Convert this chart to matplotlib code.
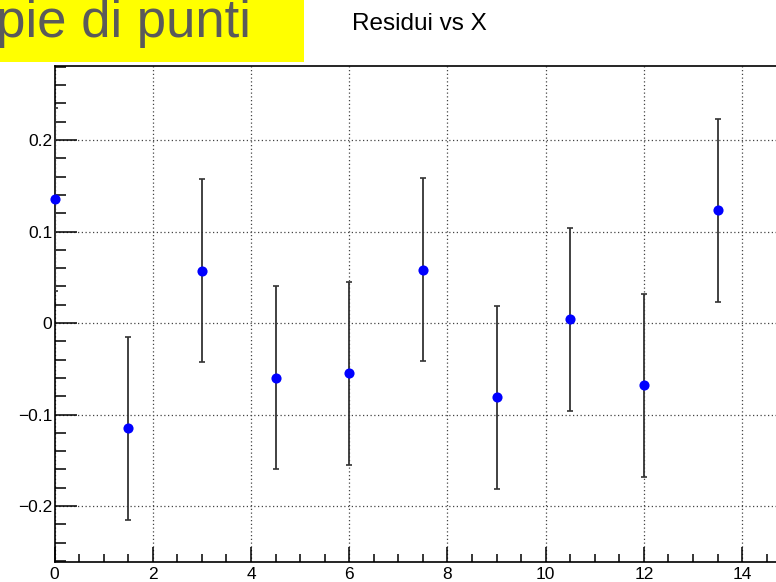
#!/usr/bin/env python3
"""
Residui vs X — ROOT-style residual plot (cropped slide screenshot).
"""

import matplotlib
matplotlib.use('Agg')
import matplotlib.pyplot as plt
import matplotlib.patches as mpatches
from matplotlib.ticker import MultipleLocator

# ============================================================
# DATA
# ============================================================

x_vals   = [0.0, 1.5, 3.0, 4.5, 6.0, 7.5, 9.0, 10.5, 12.0, 13.5]
residui  = [0.135, -0.115, 0.057, -0.060, -0.055, 0.058, -0.081, 0.004, -0.068, 0.123]
err_y    = [0.10] * len(x_vals)

TITLE       = 'Residui vs X'
SLIDE_LABEL = 'coppie di punti'

# ============================================================
# FIGURE
# ============================================================

plt.rcParams['font.family'] = ['Liberation Sans', 'DejaVu Sans']

W, H = 776, 582
fig = plt.figure(figsize=(W / 100, H / 100), dpi=100)

# axes box in pixels: left 54, top 66, bottom 562, right runs off the crop
ax = fig.add_axes([54.5 / W, (H - 562) / H, (W - 54.5) / W, (562 - 66) / H])

ax.errorbar(x_vals, residui, yerr=err_y, fmt='none',
            ecolor='#333333', elinewidth=1.3, capsize=2.5, capthick=1.2,
            zorder=3)
ax.plot(x_vals, residui, 'o', color='#0000ff', markersize=7.3,
        markeredgewidth=0, zorder=4, clip_on=False)

ax.set_xlim(0, 14.69)
ax.set_ylim(-0.2612, 0.2809)

# ROOT style: inward ticks, dotted grid on majors
ax.xaxis.set_major_locator(MultipleLocator(2))
ax.xaxis.set_minor_locator(MultipleLocator(0.5))
ax.yaxis.set_major_locator(MultipleLocator(0.1))
ax.yaxis.set_minor_locator(MultipleLocator(0.02))
ax.yaxis.set_major_formatter(plt.FuncFormatter(
    lambda v, p: '0' if abs(v) < 1e-9 else f'{v:.1f}'.replace('-', '\u2212')))

ax.tick_params(axis='x', which='major', direction='in', length=11, width=1.1,
               labelsize=12.5, pad=3.5, top=False)
ax.tick_params(axis='x', which='minor', direction='in', length=5.8, width=1.1,
               top=False)
ax.tick_params(axis='y', which='major', direction='in', length=16, width=1.1,
               labelsize=12.5, pad=1.5, right=False)
ax.tick_params(axis='y', which='minor', direction='in', length=8, width=1.1,
               right=False)

ax.grid(True, which='major', color='#444444', linestyle=(0, (1, 2)),
        linewidth=0.9)

for side in ('left', 'bottom', 'top'):
    ax.spines[side].set_linewidth(1.2)
    ax.spines[side].set_color('black')
ax.spines['right'].set_visible(False)

# ============================================================
# TITLE + SLIDE HEADER
# ============================================================

fig.text(419 / W, 1 - 24 / H, TITLE, ha='center', va='center',
         fontsize=17.5, color='black')

# yellow slide label box, cut off at the left edge
fig.patches.append(mpatches.Rectangle((0, 1 - 62 / H), 304 / W, 62 / H,
                                      transform=fig.transFigure,
                                      facecolor='#ffff00', edgecolor='none',
                                      zorder=0))
fig.text(251 / W, 1 - 37 / H, SLIDE_LABEL, ha='right', va='baseline',
         fontsize=38, color='#5a5a5a')

fig.savefig('out.png', dpi=100, facecolor='white')
